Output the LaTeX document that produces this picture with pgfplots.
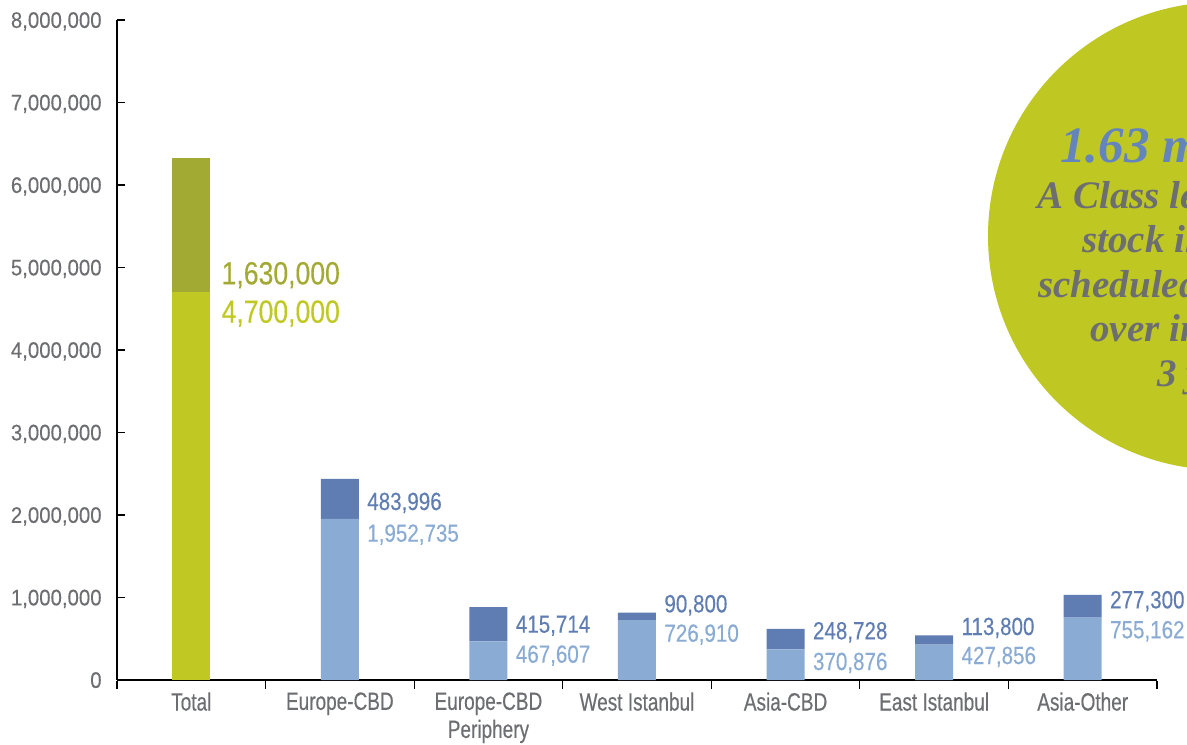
\documentclass[border=0pt]{standalone}
\usepackage{fontspec}
\setmainfont{Liberation Sans}
\newfontfamily\tickfont[FakeStretch=0.91, FakeBold=0.2]{Liberation Sans}
\newfontfamily\catfont[FakeStretch=0.76, FakeBold=0.4]{Liberation Sans}
\newfontfamily\valfont[FakeStretch=0.83, FakeBold=0.3]{Liberation Sans}
\newfontfamily\circfont{Liberation Serif}
\usepackage{pgfplots}
\pgfplotsset{compat=1.18}

\definecolor{greenL}{HTML}{C0C823}
\definecolor{greenD}{HTML}{A3AA33}
\definecolor{blueL}{HTML}{8AABD4}
\definecolor{blueD}{HTML}{5F7DB2}
\definecolor{circ}{HTML}{BFC823}
\definecolor{labgray}{HTML}{6D6E71}
\definecolor{circblue}{HTML}{6384BD}

\tikzset{
	bigval/.style={anchor=base west, inner sep=0pt, font=\valfont\fontsize{16}{18}\selectfont},
	val/.style={anchor=base west, inner sep=0pt, font=\valfont\fontsize{12.4}{14}\selectfont},
	circtxt/.style={anchor=base west, inner sep=0pt, text=labgray,
		font=\circfont\bfseries\itshape\fontsize{19.5}{22}\selectfont},
}

\begin{document}
\begin{tikzpicture}
\begin{axis}[
	scale only axis,
	width=520pt, height=330pt,
	xmin=-0.5, xmax=6.5,
	ymin=0, ymax=8000000,
	axis x line*=bottom, axis y line*=left,
	axis line style={black, line width=0.6pt},
	ybar stacked, bar width=19pt,
	tick align=inside,
	major tick length=4pt,
	ytick={0,1000000,...,8000000},
	scaled y ticks=false,
	ytick style={black, line width=0.6pt},
	yticklabel style={font=\tickfont\fontsize{11.2}{13}\selectfont, text=labgray,
		anchor=east, inner sep=0pt, text depth=0pt, xshift=-7.5pt,
		/pgf/number format/fixed, /pgf/number format/precision=0,
		/pgf/number format/1000 sep={,},
		/pgf/number format/assume math mode=true},
	xtick={-0.5,0.5,1.5,2.5,3.5,4.5,5.5,6.5},
	xticklabels={,,,,,,,},
	xtick style={black, line width=0.6pt, yshift=-4.5pt},
	extra x ticks={0,1,2,3,4,5,6},
	extra x tick labels={Total, Europe-CBD, {Europe-CBD\\Periphery}, West Istanbul, Asia-CBD, East Istanbul, Asia-Other},
	extra x tick style={major tick length=0pt},
	xticklabel style={font=\catfont\fontsize{12.5}{14}\selectfont, text=labgray,
		anchor=north, inner sep=0pt, yshift=-6pt, align=center},
	clip=false,
	]
\addplot[fill=greenL, draw=none] coordinates {(0,4700000) (1,0) (2,0) (3,0) (4,0) (5,0) (6,0)};
\addplot[fill=blueL, draw=none] coordinates {(0,0) (1,1952735) (2,467607) (3,726910) (4,370876) (5,427856) (6,755162)};
\addplot[fill=greenD, draw=none] coordinates {(0,1630000) (1,0) (2,0) (3,0) (4,0) (5,0) (6,0)};
\addplot[fill=blueD, draw=none] coordinates {(0,0) (1,483996) (2,415714) (3,90800) (4,248728) (5,113800) (6,277300)};

\node[bigval, text=greenD] at (axis cs:0.202,4796364) {1,630,000};
\node[bigval, text=greenL] at (axis cs:0.202,4330909) {4,700,000};
\node[val, text=blueD] at (axis cs:1.182,2060606) {483,996};
\node[val, text=blueL] at (axis cs:1.182,1676364) {1,952,735};
\node[val, text=blueD] at (axis cs:2.182,573333) {415,714};
\node[val, text=blueL] at (axis cs:2.182,209697) {467,607};
\node[val, text=blueD] at (axis cs:3.182,820606) {90,800};
\node[val, text=blueL] at (axis cs:3.182,464242) {726,910};
\node[val, text=blueD] at (axis cs:4.182,493333) {248,728};
\node[val, text=blueL] at (axis cs:4.182,121212) {370,876};
\node[val, text=blueD] at (axis cs:5.182,545455) {113,800};
\node[val, text=blueL] at (axis cs:5.182,193939) {427,856};
\node[val, text=blueD] at (axis cs:6.182,869091) {277,300};
\node[val, text=blueL] at (axis cs:6.182,505455) {755,162};
\end{axis}

% callout circle, in image pixel units
\begin{scope}[shift={([xshift=-58.5pt,yshift=340pt]current axis.south west)}, x=0.5pt, y=-0.5pt]
\clip (0,0) rectangle (1187,744);
\fill[circ] (1222,236) circle[radius=117pt];
\node[circtxt, text=circblue, font=\circfont\bfseries\itshape\fontsize{25.5}{28}\selectfont] at (1060,163) {1.63 million sqm};
\node[circtxt] at (1037,209) {A Class leasable office};
\node[circtxt] at (1082,253) {stock in pipeline};
\node[circtxt] at (1038,298) {scheduled to be handed};
\node[circtxt] at (1090,342) {over in the next};
\node[circtxt] at (1157,387) {3 years};
\end{scope}

\pgfresetboundingbox
\path[use as bounding box] ([xshift=-58.5pt,yshift=-32pt]current axis.south west) rectangle ([xshift=535pt,yshift=340pt]current axis.south west);
\end{tikzpicture}
\end{document}
